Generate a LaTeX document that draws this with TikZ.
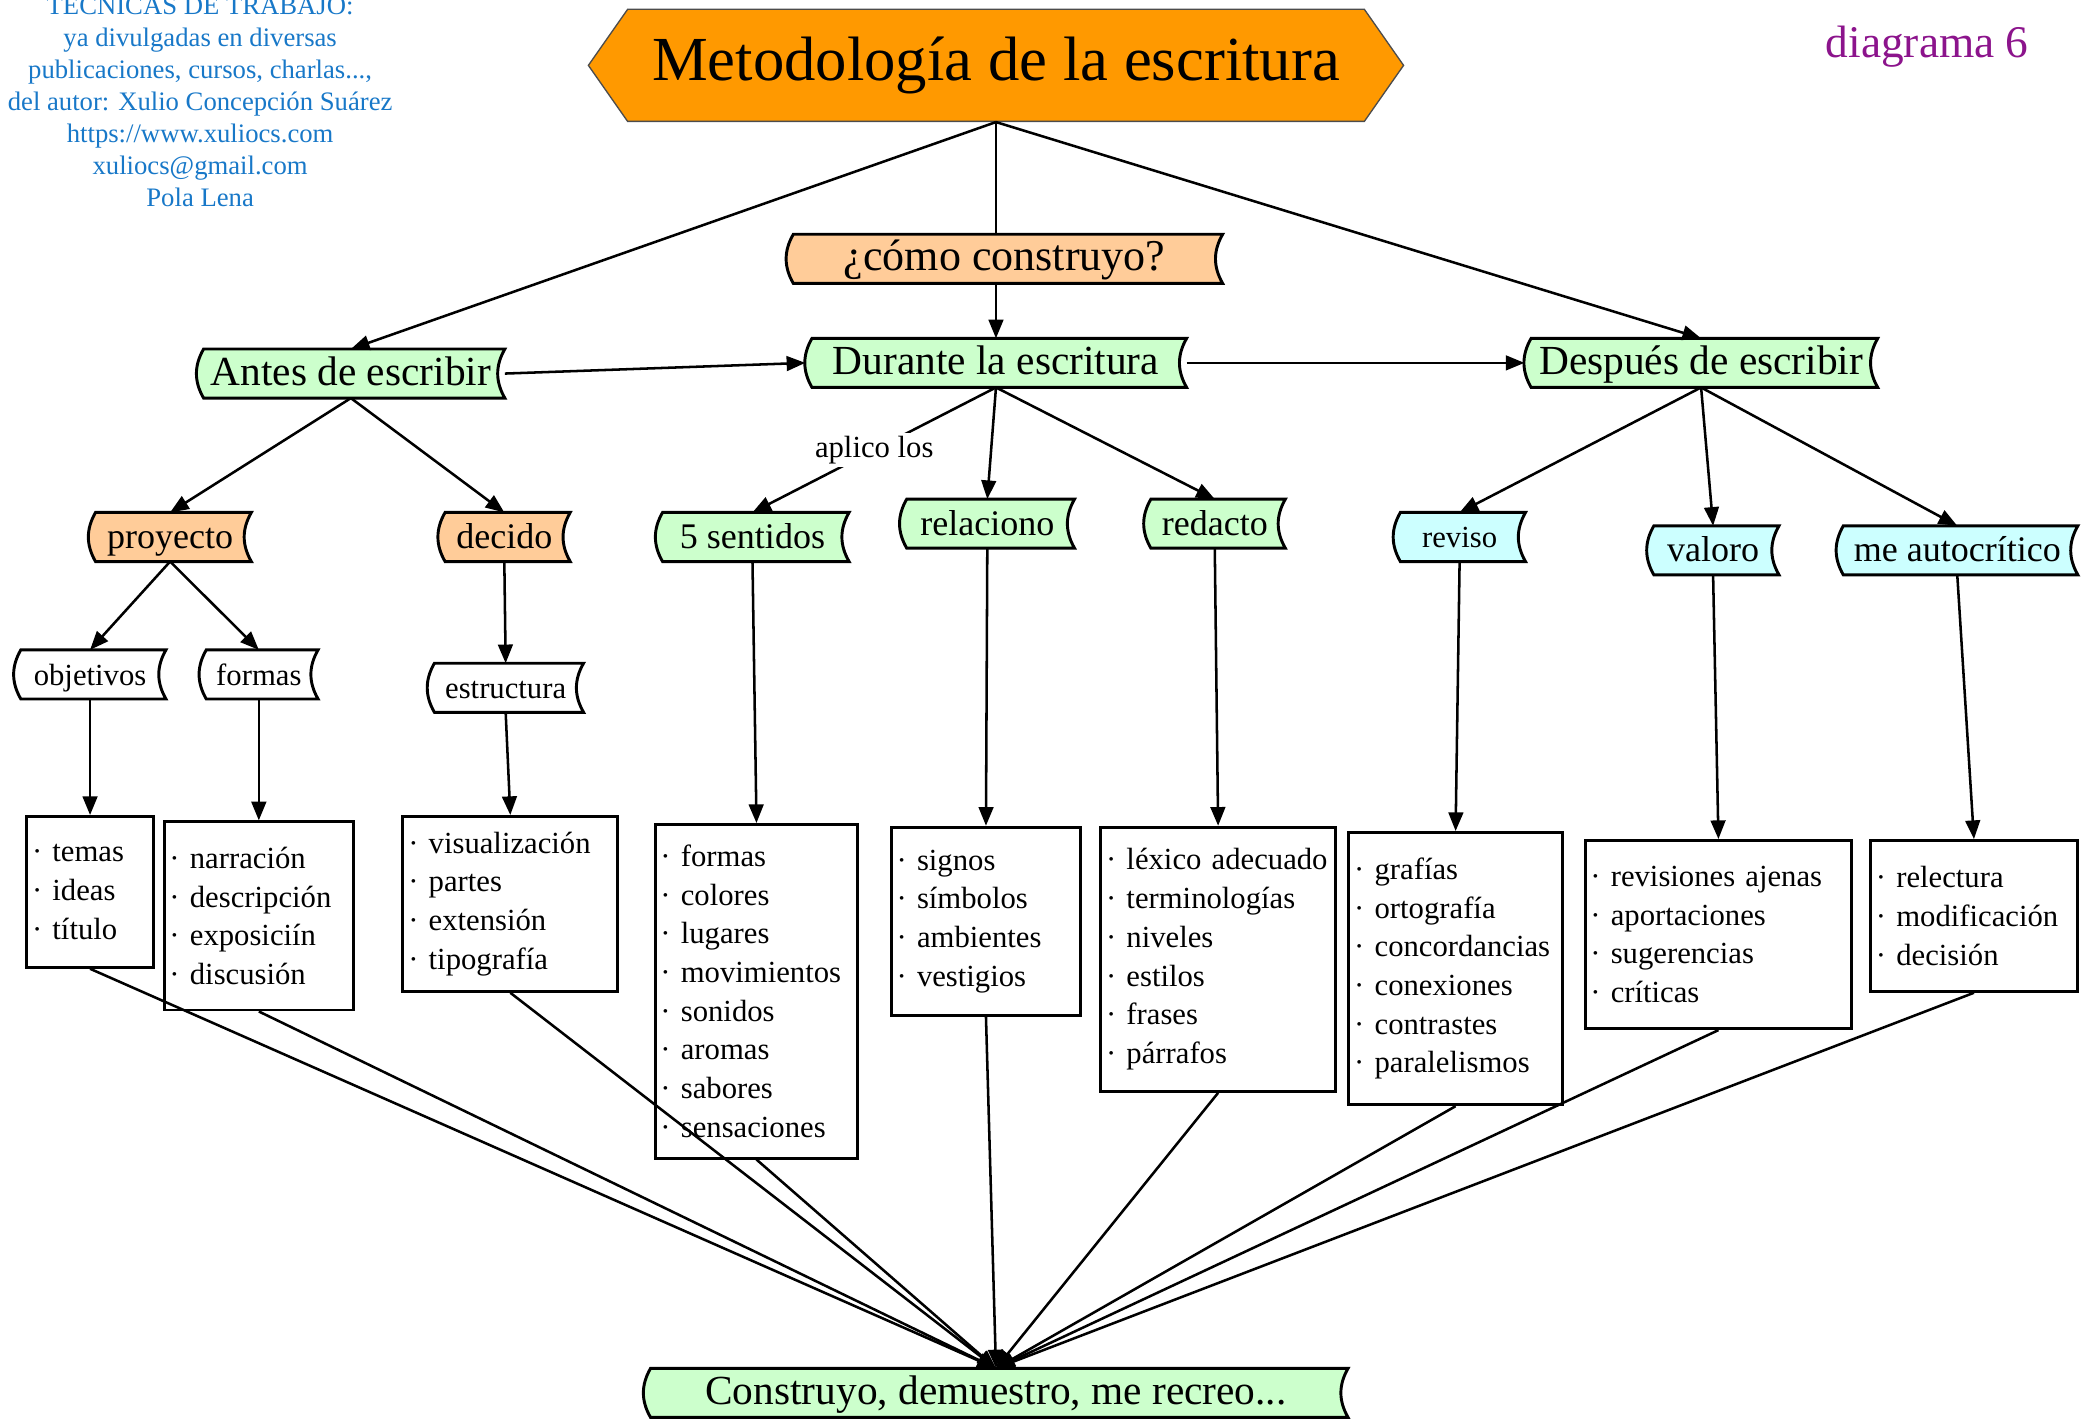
\documentclass[tikz,border=0pt]{standalone}
\usepackage{fontspec}
\setmainfont{Liberation Serif}
\usepackage{xcolor}
\usepackage{tikz}
\usetikzlibrary{arrows.meta,shapes.symbols,backgrounds}
\definecolor{naranja}{RGB}{255,153,0}
\definecolor{salmon}{RGB}{255,204,153}
\definecolor{verde}{RGB}{204,255,204}
\definecolor{celeste}{RGB}{204,255,255}
\definecolor{azulautor}{RGB}{24,120,200}
\definecolor{morado}{RGB}{140,20,140}
\hyphenpenalty=10000

\begin{document}
\begin{tikzpicture}[x=0.5pt, y=-0.5pt,
  flecha/.style={line width=0.95pt, -{Triangle[length=7pt,width=5.5pt]}},
  linea/.style={line width=0.95pt},
  banda/.style={minimum height=18pt, inner sep=0pt},
  nivel1/.style={banda, text height=12pt, text depth=3pt, font=\fontsize{15.5}{18}\selectfont},
  nivel2/.style={banda, text height=11pt, text depth=2.3pt, font=\fontsize{13.5}{16}\selectfont},
  nivel3/.style={banda, text height=10pt, text depth=1.8pt, font=\fontsize{11.5}{14}\selectfont},
  caja/.style={draw, line width=1.1pt, fill=white, align=left, inner xsep=2pt,
    font=\fontsize{11.5}{14.5}\selectfont}]
\useasboundingbox (0,0) rectangle (1568,1063);
% cabecera
\node[text=azulautor, align=center, font=\fontsize{10}{12}\selectfont] (autor) at (150,74.5)
  {TÉCNICAS DE TRABAJO:\\ ya divulgadas en diversas\\ publicaciones, cursos, charlas...,\\
   del autor: Xulio Concepción Suárez\\ https://www.xuliocs.com\\ xuliocs@gmail.com\\ Pola Lena};
\node[text=morado, font=\fontsize{17}{20}\selectfont] (diagrama) at (1444.5,35) {diagrama 6};
\node[signal, signal to=west and east, signal pointer angle=110, fill=naranja, draw=black!70,
  line width=0.5pt, minimum width=305.5pt, minimum height=42pt,
  font=\fontsize{23.5}{26}\selectfont] (titulo) at (746.5,49) {Metodología de la escritura};
% bandas
\node[nivel1, minimum width=163pt, font=\fontsize{16.5}{19}\selectfont] (como) at (753,194) {¿cómo construyo?};
\node[nivel1, minimum width=115pt] (antes) at (263,280) {Antes de escribir};
\node[nivel1, minimum width=142.5pt] (durante) at (746.5,272) {Durante la escritura};
\node[nivel1, minimum width=132pt] (despues) at (1275,272) {Después de escribir};
\node[nivel2, minimum width=60.5pt] (proyecto) at (127.5,402.5) {proyecto};
\node[nivel2, minimum width=49pt] (decido) at (378,402.5) {decido};
\node[nivel2, minimum width=72pt] (sentidos) at (564,402.5) {5 sentidos};
\node[nivel2, minimum width=65pt] (relaciono) at (740,392.5) {relaciono};
\node[nivel2, minimum width=52.5pt] (redacto) at (910.5,392.5) {redacto};
\node[nivel3, minimum width=49pt] (reviso) at (1094,402.5) {reviso};
\node[nivel2, minimum width=49pt] (valoro) at (1284,412.5) {valoro};
\node[nivel2, minimum width=90pt] (autocritico) at (1467,412.5) {me autocrítico};
\node[nivel3, minimum width=56.5pt] (objetivos) at (67.5,505.5) {objetivos};
\node[nivel3, minimum width=44pt] (formas) at (194,505.5) {formas};
\node[nivel3, minimum width=58pt] (estructura) at (379,515.5) {estructura};
\node[nivel1, minimum width=263.5pt] (construyo) at (746.5,1044) {Construyo, demuestro, me recreo...};
% cajas
\node[caja, text width=43.5pt, minimum height=56.5pt] (c1) at (67.5,668.5) {· temas\\ · ideas\\ · título};
\node[caja, text width=67pt, minimum height=70.5pt] (c2) at (194,686.5) {· narración\\ · descripción\\ · exposiciín\\ · discusión};
\node[caja, text width=76.5pt, minimum height=65.5pt] (c3) at (382.5,677.5) {· visualización\\ · partes\\ · extensión\\ · tipografía};
\node[caja, text width=72pt, minimum height=125pt] (c4) at (567,743) {· formas\\ · colores\\ · lugares\\ · movimientos\\ · sonidos\\ · aromas\\ · sabores\\ · sensaciones};
\node[caja, text width=67pt, minimum height=70.5pt] (c5) at (739,690.5) {· signos\\ · símbolos\\ · ambientes\\ · vestigios};
\node[caja, text width=84pt, minimum height=99pt] (c6) at (913,719) {· léxico adecuado\\ · terminologías\\ · niveles\\ · estilos\\ · frases\\ · párrafos};
\node[caja, text width=76pt, minimum height=102pt] (c7) at (1091,726) {· grafías\\ · ortografía\\ · concordancias\\ · conexiones\\ · contrastes\\ · paralelismos};
\node[caja, text width=96pt, minimum height=70.5pt] (c8) at (1288,700.5) {· revisiones ajenas\\ · aportaciones\\ · sugerencias\\ · críticas};
\node[caja, text width=73.5pt, minimum height=56.5pt] (c9) at (1479.5,686.5) {· relectura\\ · modificación\\ · decisión};
% fondo de las bandas
\begin{pgfonlayer}{background}
\foreach \n/\c in {como/salmon, antes/verde, durante/verde, despues/verde, proyecto/salmon,
    decido/salmon, sentidos/verde, relaciono/verde, redacto/verde, reviso/celeste,
    valoro/celeste, autocritico/celeste, objetivos/white, formas/white, estructura/white,
    construyo/verde}
  \filldraw[fill=\c, line width=1.1pt] ([xshift=2.5pt]\n.north west) to[bend right=30]
    ([xshift=2.5pt]\n.south west) -- (\n.south east) to[bend left=30] (\n.north east) -- cycle;
\end{pgfonlayer}
% conexiones
\draw[linea] (titulo.south) -- (titulo.south |- como.north);
\draw[flecha] (titulo.south |- como.south) -- (durante.north);
\draw[flecha] (titulo.south) -- (antes.north);
\draw[flecha] (titulo.south) -- (despues.north);
\draw[flecha] (antes.east) -- (durante.west);
\draw[flecha] (durante.east) -- (despues.west);
\draw[flecha] (antes.south) -- (proyecto.north);
\draw[flecha] (antes.south) -- (decido.north);
\draw[flecha] (proyecto.south) -- (objetivos.north);
\draw[flecha] (proyecto.south) -- (formas.north);
\draw[flecha] (decido.south) -- (estructura.north);
\draw[flecha] (durante.south) -- node[fill=white, inner sep=1pt, font=\fontsize{11.5}{14}\selectfont] {aplico los} (sentidos.north);
\draw[flecha] (durante.south) -- (relaciono.north);
\draw[flecha] (durante.south) -- (redacto.north);
\draw[flecha] (despues.south) -- (reviso.north);
\draw[flecha] (despues.south) -- (valoro.north);
\draw[flecha] (despues.south) -- (autocritico.north);
\draw[flecha] (objetivos.south) -- (c1.north);
\draw[flecha] (formas.south) -- (c2.north);
\draw[flecha] (estructura.south) -- (c3.north);
\draw[flecha] (sentidos.south) -- (c4.north);
\draw[flecha] (relaciono.south) -- (c5.north);
\draw[flecha] (redacto.south) -- (c6.north);
\draw[flecha] (reviso.south) -- (c7.north);
\draw[flecha] (valoro.south) -- (c8.north);
\draw[flecha] (autocritico.south) -- (c9.north);
\foreach \c in {c1,c2,c3,c4,c5,c6,c7,c8,c9}
  \draw[flecha] (\c.south) -- (construyo.north);
\end{tikzpicture}
\end{document}
